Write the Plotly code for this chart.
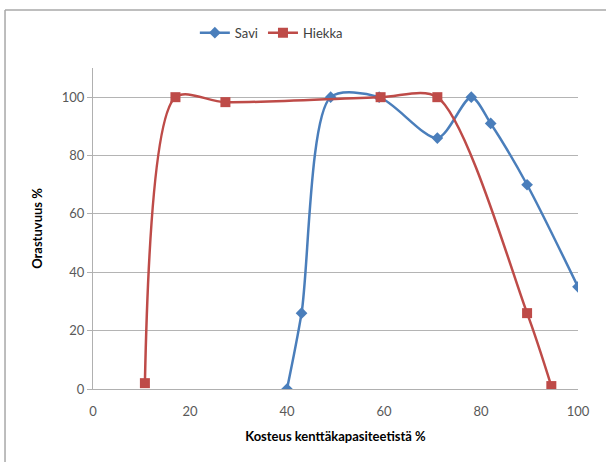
import plotly.graph_objects as go

savi_x = [40, 43, 49, 59, 71, 78, 82, 89.5, 100]
savi_y = [0, 26, 100, 100, 86, 100, 91, 70, 35]
hiekka_x = [10.7, 17, 27.3, 59.3, 71, 89.5, 94.5]
hiekka_y = [2, 100, 98.3, 100, 100, 26, 1]
x_ticks = [0, 20, 40, 60, 80, 100]
y_ticks = [0, 20, 40, 60, 80, 100]

FONT = "Lato"
fig = go.Figure()
fig.add_trace(go.Scatter(
    x=savi_x, y=savi_y, name="Savi", mode="lines+markers",
    line=dict(color="#4a7ebb", width=2.5, shape="spline", smoothing=0.8),
    marker=dict(symbol="diamond", size=9, color="#4a7ebb"),
))
fig.add_trace(go.Scatter(
    x=hiekka_x, y=hiekka_y, name="Hiekka", mode="lines+markers",
    line=dict(color="#be4b48", width=2.5, shape="spline", smoothing=0.8),
    marker=dict(symbol="square", size=10, color="#be4b48"),
))

fig.update_layout(
    width=606, height=462,
    margin=dict(l=93, r=28, t=68, b=73, autoexpand=False),
    paper_bgcolor="white", plot_bgcolor="white",
    font=dict(family=FONT, size=13, color="#595959"),
    legend=dict(orientation="h", x=0.21, xanchor="left", y=1.11, yanchor="middle",
                font=dict(family=FONT, size=13, color="#404040"),
                itemwidth=30, tracegroupgap=0),
    xaxis=dict(range=[0, 100], tickvals=x_ticks, showgrid=False,
               showline=True, linecolor="#b0b0b0", linewidth=1,
               ticks="", ticklabelstandoff=10, tickfont=dict(size=13, color="#595959"),
               title=dict(text="<b>Kosteus kenttäkapasiteetistä %</b>",
                          font=dict(family=FONT, size=13, color="#000000"), standoff=14),
               zeroline=False),
    yaxis=dict(range=[0, 110], tickvals=y_ticks, showgrid=True, gridcolor="#b4b4b4",
               gridwidth=1, showline=True, linecolor="#b0b0b0", linewidth=1,
               ticks="outside", ticklen=5, tickcolor="#b0b0b0",
               tickfont=dict(size=13, color="#595959"),
               title=dict(text="<b>Orastuvuus %</b>",
                          font=dict(family=FONT, size=13, color="#000000"), standoff=16),
               zeroline=False),
    shapes=[
        dict(type="line", xref="paper", yref="paper", x0=-0.1814, x1=1.2,
             y0=1.1807, y1=1.1807, line=dict(color="#a8a8a8", width=1.5)),
        dict(type="line", xref="paper", yref="paper", x0=-0.1814, x1=-0.1814,
             y0=1.1807, y1=-0.3, line=dict(color="#a8a8a8", width=1.5)),
    ],
)
fig.write_html("out.html", config={"displayModeBar": False},
               post_script="document.body.style.margin='0';document.body.style.overflow='hidden';")
